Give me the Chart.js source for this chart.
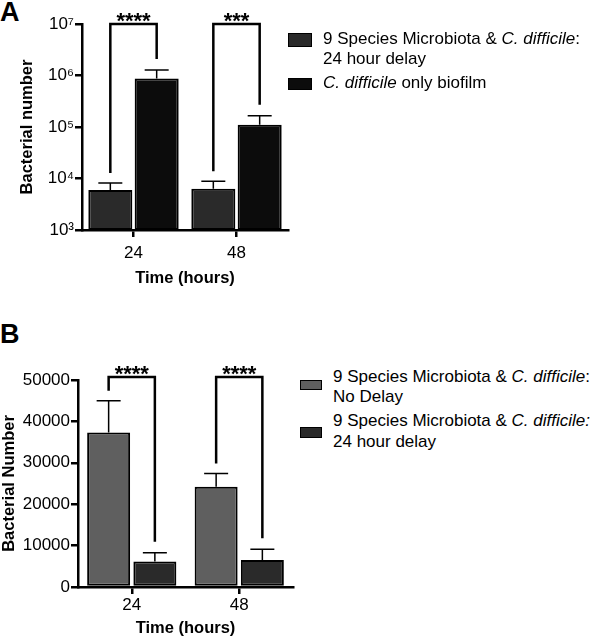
<!DOCTYPE html>
<html>
<head>
<meta charset="utf-8">
<script src="https://cdn.jsdelivr.net/npm/chart.js@4.4.1/dist/chart.umd.min.js"></script>
<style>
  body { margin: 0; background: #fff; font-family: "Liberation Sans", Arial, sans-serif; }
  #wrap { position: relative; width: 600px; height: 644px; overflow: hidden; }
  .box { position: absolute; }
  .letter { position: absolute; left: 0; font-size: 27px; font-weight: bold; line-height: 1; color: #000; }
  .leg { position: absolute; font-size: 17px; color: #000; white-space: nowrap; }
  .sw { position: absolute; border: 1.5px solid #000; box-sizing: border-box; }
</style>
</head>
<body>
<div id="wrap">
  <div class="letter" style="top:-1px">A</div>
  <div class="letter" style="top:321px">B</div>
  <div class="box" style="left:0;top:0;width:300px;height:300px"><canvas id="chartA"></canvas></div>
  <div class="box" style="left:0;top:320px;width:300px;height:324px"><canvas id="chartB"></canvas></div>
  <div id="legA"></div>
  <div id="legB"></div>
</div>
<script>
// categories
var hours = ['24', '48'];

// panel A (log scale)
var aDelay = [6000, 6300];
var aDelayErr = [8200, 8800];
var aOnly = [870000, 110000];
var aOnlyErr = [1280000, 166000];
var aStars = ['****', '***'];
var aTicks = [1e3, 1e4, 1e5, 1e6, 1e7];

// panel B (linear)
var bNoDelay = [37300, 24200];
var bNoDelayErr = [45000, 27400];
var bDelay = [6150, 6500];
var bDelayErr = [8300, 9100];
var bStars = ['****', '****'];
var bTicks = [0, 10000, 20000, 30000, 40000, 50000];

var legendA = ['9 Species Microbiota &amp; <i>C. difficile</i>:<br>24 hour delay', '<i>C. difficile</i> only biofilm'];
var legendB = ['9 Species Microbiota &amp; <i>C. difficile</i>:<br>No Delay', '9 Species Microbiota &amp; <i>C. difficile:</i><br>24 hour delay'];

var FONT = "'Liberation Sans', Arial, sans-serif";
var sup = {3: '³', 4: '⁴', 5: '⁵', 6: '⁶', 7: '⁷'};

// error bars + significance brackets
var sigPlugin = {
  id: 'sig',
  afterDatasetsDraw: function(chart, args, opts) {
    var ctx = chart.ctx;
    var y = chart.scales.y;
    var errPx = [];
    ctx.save();
    ctx.strokeStyle = '#000';
    ctx.lineWidth = 1.5;
    chart.data.datasets.forEach(function(ds, di) {
      var meta = chart.getDatasetMeta(di);
      errPx[di] = [];
      meta.data.forEach(function(bar, i) {
        var ey = y.getPixelForValue(ds.errUp[i]);
        errPx[di][i] = ey;
        ctx.beginPath();
        ctx.moveTo(bar.x, bar.y);
        ctx.lineTo(bar.x, ey);
        ctx.moveTo(bar.x - 12, ey);
        ctx.lineTo(bar.x + 12, ey);
        ctx.stroke();
      });
    });
    // brackets
    var top = chart.chartArea.top - opts.lift;
    var m0 = chart.getDatasetMeta(0), m1 = chart.getDatasetMeta(1);
    ctx.lineWidth = 2.5;
    ctx.fillStyle = '#000';
    ctx.font = 'bold 22px ' + FONT;
    ctx.textAlign = 'center';
    ctx.textBaseline = 'alphabetic';
    opts.stars.forEach(function(s, i) {
      var x0 = m0.data[i].x, x1 = m1.data[i].x;
      ctx.beginPath();
      ctx.moveTo(x0, errPx[0][i] - 10);
      ctx.lineTo(x0, top);
      ctx.lineTo(x1, top);
      ctx.lineTo(x1, errPx[1][i] - 11);
      ctx.stroke();
      ctx.fillText(s, (x0 + x1) / 2, top + 4);
    });
    ctx.restore();
  }
};

function axisCommon(tickPad) {
  return {
    border: { display: true, color: '#000', width: 2.5 },
    grid: { display: true, drawOnChartArea: false, drawTicks: true, tickLength: 7, color: '#000', lineWidth: 2.5 },
    ticks: { color: '#000', font: { family: FONT, size: 17 }, padding: tickPad }
  };
}

function makeChart(id, cfg) {
  var x = axisCommon(cfg.xPad);
  x.grid.offset = false;
  x.title = { display: true, text: 'Time (hours)', color: '#000', font: { family: FONT, size: 16.5, weight: 'bold' }, padding: { top: 0, bottom: cfg.xTitlePad } };
  x.afterFit = function(s) { s.height = cfg.xHeight; };

  var yAx = axisCommon(1);
  yAx.min = cfg.min;
  yAx.max = cfg.max;
  yAx.type = cfg.yType;
  yAx.title = { display: true, text: cfg.yTitle, color: '#000', font: { family: FONT, size: 16.5, weight: 'bold' }, padding: { top: cfg.yTitlePad, bottom: 0 } };
  yAx.afterFit = function(s) { s.width = cfg.yWidth; };
  yAx.afterBuildTicks = function(s) { s.ticks = cfg.ticks.map(function(v) { return { value: v }; }); };
  yAx.ticks.callback = cfg.tickFmt;

  return new Chart(document.getElementById(id), {
    type: 'bar',
    data: {
      labels: hours,
      datasets: cfg.sets.map(function(s) {
        return {
          data: s.data, errUp: s.err, backgroundColor: s.color, borderColor: '#000',
          borderWidth: 2, borderSkipped: false,
          categoryPercentage: cfg.catPct, barPercentage: cfg.barPct
        };
      })
    },
    options: {
      responsive: true,
      maintainAspectRatio: false,
      animation: false,
      layout: { padding: { top: cfg.padTop, right: cfg.padRight, left: 0, bottom: 0 } },
      plugins: {
        legend: { display: false },
        tooltip: { enabled: false },
        sig: { stars: cfg.stars, lift: cfg.lift }
      },
      scales: { x: x, y: yAx }
    },
    plugins: [sigPlugin]
  });
}

makeChart('chartA', {
  sets: [
    { data: aDelay, err: aDelayErr, color: '#2a2a2a' },
    { data: aOnly, err: aOnlyErr, color: '#0c0c0c' }
  ],
  yType: 'logarithmic', min: 1e3, max: 1e7, ticks: aTicks,
  tickFmt: function(v) { return '10' + sup[Math.round(Math.log10(v))]; },
  yTitle: 'Bacterial number', yTitlePad: 18, yWidth: 82,
  xHeight: 70, xPad: 6, xTitlePad: 12,
  padTop: 24, padRight: 12,
  catPct: 0.9, barPct: 0.95,
  stars: aStars, lift: 0
});

makeChart('chartB', {
  sets: [
    { data: bNoDelay, err: bNoDelayErr, color: '#5f5f5f' },
    { data: bDelay, err: bDelayErr, color: '#2a2a2a' }
  ],
  yType: 'linear', min: 0, max: 50000, ticks: bTicks,
  tickFmt: function(v) { return String(v); },
  yTitle: 'Bacterial Number', yTitlePad: 0, yWidth: 78,
  xHeight: 57, xPad: 1, xTitlePad: 6,
  padTop: 60, padRight: 7,
  catPct: 0.86, barPct: 0.93,
  stars: bStars, lift: 3
});

// legends
function legend(el, items) {
  var html = '';
  items.forEach(function(it) {
    html += '<div class="sw" style="left:' + it.bx + 'px;top:' + it.by + 'px;width:' + it.bw + 'px;height:' + it.bh + 'px;background:' + it.color + '"></div>';
    html += '<div class="leg" style="left:' + it.tx + 'px;top:' + it.ty + 'px;line-height:' + it.lh + 'px">' + it.text + '</div>';
  });
  document.getElementById(el).innerHTML = html;
}
legend('legA', [
  { text: legendA[0], color: '#2a2a2a', bx: 288, by: 33, bw: 24, bh: 14, tx: 323, ty: 29, lh: 20 },
  { text: legendA[1], color: '#0c0c0c', bx: 288, by: 78, bw: 24, bh: 12, tx: 323, ty: 73, lh: 20 }
]);
legend('legB', [
  { text: legendB[0], color: '#5f5f5f', bx: 300, by: 380, bw: 22, bh: 10, tx: 333, ty: 367, lh: 20 },
  { text: legendB[1], color: '#2a2a2a', bx: 300, by: 427, bw: 22, bh: 11, tx: 333, ty: 410, lh: 21 }
]);
</script>
</body>
</html>
